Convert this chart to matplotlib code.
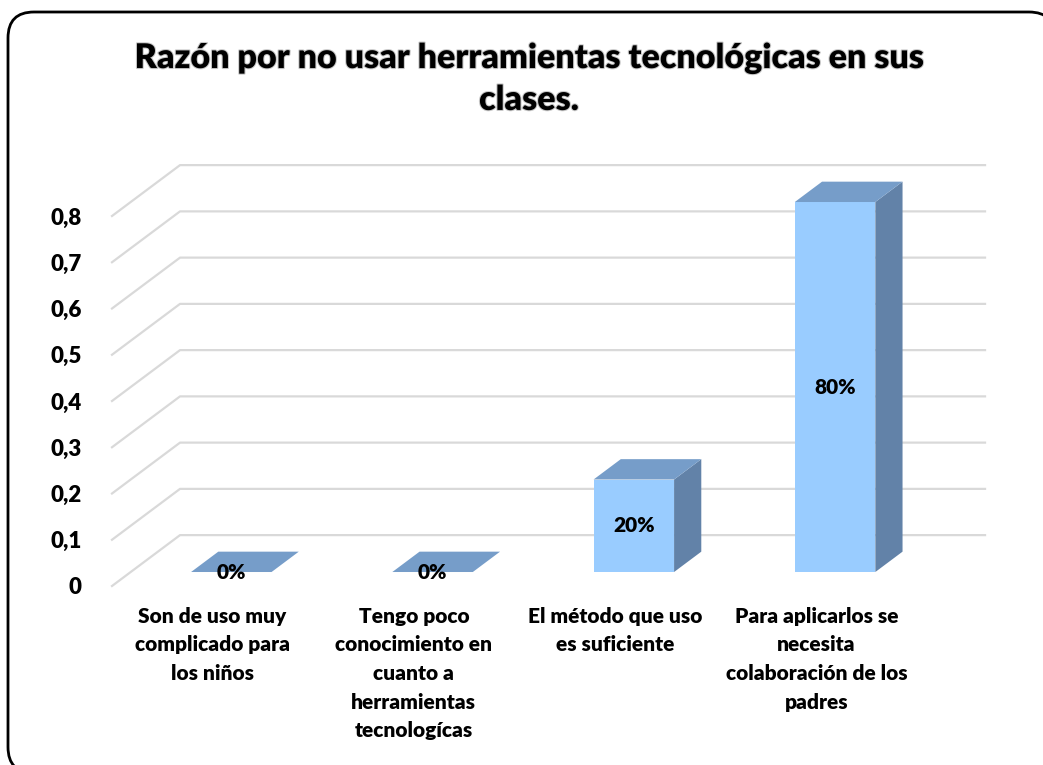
import numpy as np
import matplotlib as mpl
mpl.use("Agg")
import matplotlib.pyplot as plt
from matplotlib.patches import Polygon, FancyBboxPatch
from matplotlib import patheffects

# data
categories = ["Son de uso muy\ncomplicado para\nlos niños",
              "Tengo poco\nconocimiento en\ncuanto a\nherramientas\ntecnologícas",
              "El método que uso\nes suficiente",
              "Para aplicarlos se\nnecesita\ncolaboración de los\npadres"]
values = [0.0, 0.0, 0.2, 0.8]
value_labels = ["0%", "0%", "20%", "80%"]
yticks = [0, 0.1, 0.2, 0.3, 0.4, 0.5, 0.6, 0.7, 0.8]
ytick_labels = ["0", "0,1", "0,2", "0,3", "0,4", "0,5", "0,6", "0,7", "0,8"]
title = "Razón por no usar herramientas tecnológicas en sus\nclases."

# style
plt.rcParams['font.family'] = ['Lato', 'DejaVu Sans']
WT = 'heavy'
FRONT = '#99CCFF'
TOP = '#769DC9'
SIDE = '#6282A8'
GRID = '#D9D9D9'
DX, DY = 0.338, 0.110       # wall depth in data units
F0, F1 = 0.275, 0.675       # bar depth span (fraction of wall)
BW = 0.4

W, H = 1043, 765
fig = plt.figure(figsize=(W / 100, H / 100), dpi=100)

# frame
bg = fig.add_axes([0, 0, 1, 1])
bg.set_xlim(0, W)
bg.set_ylim(H, 0)
bg.axis('off')
bg.add_patch(FancyBboxPatch((8, 12), 1047, 761,
                            boxstyle="round,pad=0,rounding_size=26",
                            fc='white', ec='black', lw=2))

ax = fig.add_axes([112 / W, 1 - 586 / H, 805 / W, 370 / H])
ax.set_xlim(0, len(categories))
ax.set_ylim(0, 0.8)
ax.patch.set_alpha(0)
for s in ax.spines.values():
    s.set_visible(False)

# walls / gridlines
for v in yticks:
    ax.plot([0, DX, len(categories) + DX], [v, v + DY, v + DY],
             color=GRID, lw=1.6, clip_on=False, zorder=1)

# bars
for i, v in enumerate(values):
    x0 = i + 0.5 - BW / 2 + F0 * DX
    x1 = x0 + BW
    y0 = F0 * DY
    y1 = y0 + v
    ox, oy = (F1 - F0) * DX, (F1 - F0) * DY
    if v > 0:
        ax.add_patch(Polygon([(x0, y0), (x1, y0), (x1, y1), (x0, y1)],
                             fc=FRONT, ec='none', clip_on=False, zorder=3))
        ax.add_patch(Polygon([(x1, y0), (x1 + ox, y0 + oy),
                              (x1 + ox, y1 + oy), (x1, y1)],
                             fc=SIDE, ec='none', clip_on=False, zorder=3))
    ax.add_patch(Polygon([(x0, y1), (x1, y1), (x1 + ox, y1 + oy),
                          (x0 + ox, y1 + oy)],
                         fc=TOP, ec='none', clip_on=False, zorder=3))
    ax.text((x0 + x1) / 2, y0 + v / 2, value_labels[i], ha='center',
            va='center', fontsize=15, fontweight=WT, zorder=5)

ax.set_yticks(yticks)
ax.set_yticklabels(ytick_labels, fontsize=16, fontweight=WT)
ax.set_xticks(np.arange(len(categories)) + 0.5)
ax.set_xticklabels(categories, fontsize=15, fontweight=WT,
                   linespacing=1.6)
ax.tick_params(axis='y', length=0, pad=22)
ax.tick_params(axis='x', length=0, pad=15)

fig.text(529 / W, 1 - 79 / H, title, ha='center', va='center',
         fontsize=24.5, fontweight=WT, linespacing=1.38,
         path_effects=[patheffects.withStroke(linewidth=1.5,
                                              foreground='#C8C8C8')])

fig.savefig('out.png', dpi=100)
